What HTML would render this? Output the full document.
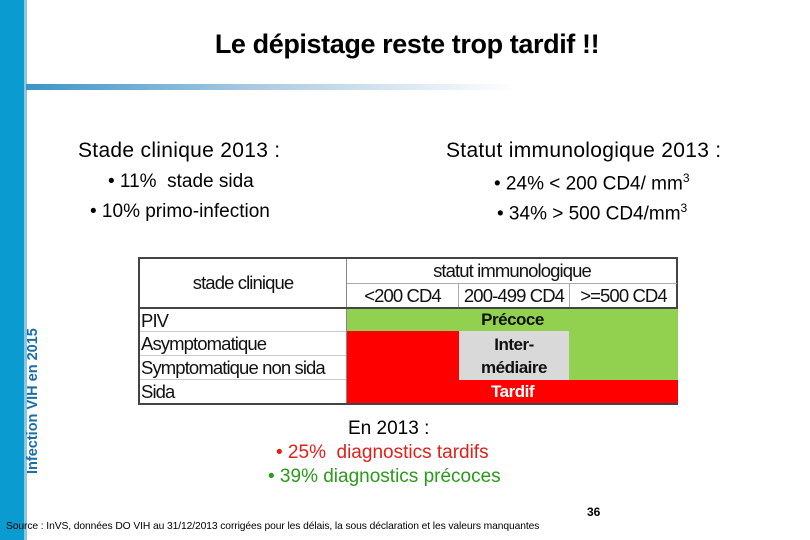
<!DOCTYPE html>
<html><head><meta charset="utf-8"><style>
body{margin:0;width:810px;height:540px;position:relative;background:#fff;font-family:"Liberation Sans",sans-serif;overflow:hidden}
.a{position:absolute;white-space:nowrap}
.t{position:absolute;font-size:18.5px;letter-spacing:-0.9px;color:#111;display:flex;align-items:center}
</style></head><body>
<div class="a" style="left:0;top:0;width:24px;height:540px;background:#0a9bd0"></div>
<div class="a" style="left:24px;top:0;width:3px;height:540px;background:#8cc6e2"></div>
<div class="a" style="left:26px;top:84px;width:490px;height:6px;background:linear-gradient(90deg,#3a95c8,#a8c8e0 45%,#fff)"></div>
<div class="a" style="left:0;width:810px;top:29px;text-align:center;font-size:27px;font-weight:bold;letter-spacing:-0.4px;padding-left:2px">Le dépistage reste trop tardif !!</div>
<div class="a" style="left:25px;top:474px;transform-origin:0 0;transform:rotate(-90deg);font-size:14.5px;font-weight:bold;color:#1a6fa8">Infection VIH en 2015</div>
<div class="a" style="left:78px;top:139px;font-size:21px;letter-spacing:0.3px">Stade clinique 2013 :</div>
<div class="a" style="left:108px;top:171px;font-size:19px">• 11%&nbsp; stade sida</div>
<div class="a" style="left:90px;top:201px;font-size:19px">• 10% primo-infection</div>
<div class="a" style="left:446px;top:139px;font-size:21px;letter-spacing:0.3px">Statut immunologique 2013 :</div>
<div class="a" style="left:494px;top:171px;font-size:19px">• 24% &lt; 200 CD4/ mm<sup style="font-size:12px">3</sup></div>
<div class="a" style="left:497px;top:201px;font-size:19px">• 34% &gt; 500 CD4/mm<sup style="font-size:12px">3</sup></div>

<div class="a" style="left:138px;top:257px;width:540px;height:148px;background:#fff;border:2px solid #444;box-sizing:border-box"></div>
<div class="t" style="left:140px;top:259px;width:206px;height:48px;justify-content:center;border-right:1px solid #888">stade clinique</div>
<div class="t" style="left:347px;top:259px;width:330px;height:24px;justify-content:center;border-bottom:1px solid #aaa">statut immunologique</div>
<div class="t" style="left:347px;top:284px;width:111px;height:23px;justify-content:center;border-right:1px solid #aaa">&lt;200 CD4</div>
<div class="t" style="left:459px;top:284px;width:110px;height:23px;justify-content:center;border-right:1px solid #aaa">200-499 CD4</div>
<div class="t" style="left:570px;top:284px;width:107px;height:23px;justify-content:center">&gt;=500 CD4</div>
<div class="a" style="left:140px;top:307px;width:538px;height:2px;background:#444"></div>
<div class="t" style="left:141px;top:309px;height:23px">PIV</div>
<div class="t" style="left:141px;top:332px;height:24px">Asymptomatique</div>
<div class="t" style="left:141px;top:356px;height:24px">Symptomatique non sida</div>
<div class="t" style="left:141px;top:380px;height:23px">Sida</div>
<div class="a" style="left:140px;top:331px;width:206px;height:1px;background:#ccc"></div>
<div class="a" style="left:140px;top:355px;width:206px;height:1px;background:#ccc"></div>
<div class="a" style="left:140px;top:379px;width:206px;height:1px;background:#ccc"></div>
<div class="a" style="left:346px;top:309px;width:1px;height:94px;background:#888"></div>
<div class="t" style="left:347px;top:309px;width:331px;height:22px;background:#92d050;justify-content:center;font-weight:bold;font-size:17px;letter-spacing:-0.5px">Précoce</div>
<div class="a" style="left:347px;top:331px;width:112px;height:49px;background:#f00"></div>
<div class="t" style="left:459px;top:331px;width:110px;height:49px;background:#d9d9d9;justify-content:center;text-align:center;font-weight:bold;line-height:23px;font-size:17px;letter-spacing:-0.5px">Inter-<br>médiaire</div>
<div class="a" style="left:569px;top:331px;width:109px;height:49px;background:#92d050"></div>
<div class="t" style="left:347px;top:380px;width:331px;height:23px;background:#f00;color:#fff;justify-content:center;font-weight:bold;font-size:17px;letter-spacing:-0.5px">Tardif</div>

<div class="a" style="left:348px;top:418px;font-size:19px">En 2013 :</div>
<div class="a" style="left:276px;top:442px;font-size:19px;color:#e0201a">• 25%&nbsp; diagnostics tardifs</div>
<div class="a" style="left:268px;top:466px;font-size:19px;color:#2a9a1a">• 39% diagnostics précoces</div>
<div class="a" style="left:587px;top:505px;font-size:12px;font-weight:bold">36</div>
<div class="a" style="left:6px;top:521px;font-size:10.3px;letter-spacing:-0.1px">Source : InVS, données DO VIH au 31/12/2013 corrigées pour les délais, la sous déclaration et les valeurs manquantes</div>
</body></html>
